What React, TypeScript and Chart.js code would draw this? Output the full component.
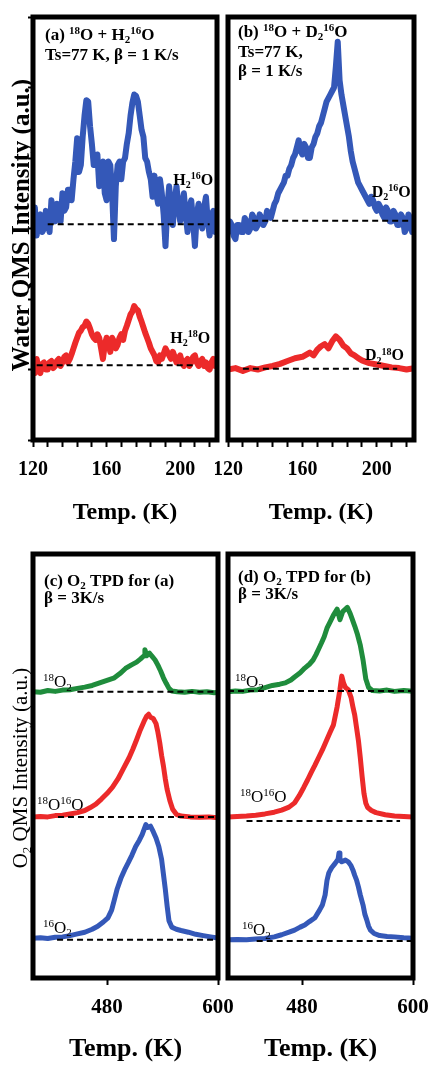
import React, { useEffect, useRef } from 'react';
import { Chart, registerables } from 'chart.js';

Chart.register(...registerables);

const FONT = '"Liberation Serif", "Times New Roman", serif';
const BLUE = '#3458b8';
const RED = '#ec2a2a';
const GREEN = '#1f8c3c';

// ---------- Panels (a) and (b): temperature grid ----------
const TOP_T = [120, 121, 122, 123, 124, 125, 126, 127, 128, 129, 130, 131, 132, 133, 134, 135, 136, 137, 138, 139, 140, 141, 142, 143, 144, 145, 146, 147, 148, 149, 150, 151, 152, 153, 154, 155, 156, 157, 158, 159, 160, 161, 162, 163, 164, 165, 166, 167, 168, 169, 170, 171, 172, 173, 174, 175, 176, 177, 178, 179, 180, 181, 182, 183, 184, 185, 186, 187, 188, 189, 190, 191, 192, 193, 194, 195, 196, 197, 198, 199, 200, 201, 202, 203, 204, 205, 206, 207, 208, 209, 210, 211, 212, 213, 214, 215, 216, 217, 218, 219, 220];

// ---------- Panel (a): 18O + H2 16O ----------
const A_H2_16O = [3.1, 3.3, 2.9, 3.15, 3.2, 2.95, 3.0, 3.25, 3.1, 2.95, 3.4, 3.15, 3.1, 3.35, 3.3, 3.1, 3.5, 3.25, 3.3, 3.55, 3.55, 3.4, 3.7, 3.95, 4.28, 3.8, 3.9, 4.3, 4.6, 4.82, 4.8, 4.45, 4.2, 3.9, 3.95, 4.05, 3.6, 3.9, 3.95, 3.5, 3.4, 3.95, 3.9, 3.5, 2.85, 3.6, 3.9, 3.95, 3.7, 3.95, 4.0, 4.2, 4.35, 4.6, 4.78, 4.9, 4.88, 4.8, 4.6, 4.4, 4.3, 4.0, 3.95, 3.8, 3.7, 3.45, 3.75, 3.5, 3.35, 3.7, 3.5, 3.2, 2.75, 3.3, 3.6, 3.3, 3.05, 3.4, 3.6, 3.3, 3.1, 3.35, 3.5, 3.2, 2.95, 3.3, 3.4, 3.1, 2.75, 3.2, 3.35, 3.1, 3.0, 3.3, 3.45, 3.1, 2.9, 3.2, 3.25, 2.95, 3.0];
const A_H2_18O = [1.05, 0.95, 1.15, 1.0, 0.95, 1.08, 1.1, 1.0, 1.0, 1.1, 1.12, 1.02, 1.05, 1.12, 1.15, 1.05, 1.1, 1.18, 1.2, 1.1, 1.15, 1.22, 1.3, 1.38, 1.45, 1.52, 1.55, 1.6, 1.62, 1.68, 1.65, 1.58, 1.5, 1.45, 1.42, 1.5, 1.45, 1.3, 1.15, 1.35, 1.45, 1.4, 1.25, 1.45, 1.4, 1.3, 1.35, 1.45, 1.5, 1.42, 1.55, 1.62, 1.7, 1.78, 1.82, 1.9, 1.86, 1.84, 1.75, 1.68, 1.6, 1.52, 1.45, 1.38, 1.3, 1.25, 1.2, 1.12, 1.1, 1.2, 1.15, 1.22, 1.3, 1.25, 1.2, 1.15, 1.25, 1.18, 1.1, 1.15, 1.2, 1.1, 1.05, 1.12, 1.15, 1.05, 1.1, 1.18, 1.2, 1.1, 1.05, 1.12, 1.15, 1.05, 1.1, 1.02, 1.0, 1.1, 1.15, 1.05, 1.1];
const A_BASE_16_T = [128, 216];
const A_BASE_16_V = [3.06, 3.06];
const A_BASE_18_T = [122, 207];
const A_BASE_18_V = [1.06, 1.06];

// ---------- Panel (b): 18O + D2 16O ----------
const B_D2_16O = [2.95, 3.1, 3.05, 2.9, 2.85, 3.05, 3.05, 2.95, 2.95, 3.15, 3.1, 2.95, 3.0, 3.2, 3.15, 3.0, 3.05, 3.2, 3.15, 3.05, 3.1, 3.25, 3.2, 3.15, 3.25, 3.35, 3.4, 3.5, 3.55, 3.6, 3.65, 3.75, 3.75, 3.85, 3.9, 4.0, 4.05, 4.15, 4.25, 4.1, 4.05, 4.2, 4.15, 4.0, 4.0, 4.15, 4.2, 4.3, 4.35, 4.45, 4.5, 4.6, 4.7, 4.8, 4.85, 4.9, 4.95, 5.0, 5.3, 5.65, 5.1, 4.9, 4.75, 4.6, 4.45, 4.3, 4.1, 3.95, 3.85, 3.75, 3.65, 3.6, 3.55, 3.5, 3.45, 3.4, 3.35, 3.45, 3.4, 3.3, 3.25, 3.35, 3.3, 3.2, 3.15, 3.3, 3.25, 3.1, 3.1, 3.25, 3.2, 3.05, 3.05, 3.2, 3.15, 2.95, 3.0, 3.2, 3.15, 2.95, 3.05];
const B_T18 = [120, 124, 128, 132, 136, 140, 144, 148, 152, 156, 160, 164, 166, 168, 170, 172, 174, 176, 178, 180, 182, 184, 186, 188, 190, 192, 196, 200, 204, 208, 212, 216, 220];
const B_D2_18O = [1.0, 1.02, 0.98, 1.02, 1.0, 1.03, 1.05, 1.08, 1.12, 1.16, 1.18, 1.24, 1.2, 1.28, 1.33, 1.36, 1.3, 1.4, 1.47, 1.42, 1.34, 1.3, 1.23, 1.2, 1.16, 1.13, 1.09, 1.07, 1.05, 1.03, 1.02, 1.0, 1.02];
const B_BASE_16_T = [133, 217];
const B_BASE_16_V = [3.11, 3.11];
const B_BASE_18_T = [128, 211];
const B_BASE_18_V = [1.01, 1.01];

// ---------- Panel (c): O2 TPD for (a) ----------
const C_T18O2 = [400, 408, 416, 424, 432, 440, 448, 456, 464, 472, 480, 488, 494, 500, 506, 512, 516, 520, 521, 523, 526, 529, 532, 535, 538, 541, 544, 547, 550, 556, 564, 572, 580, 588, 596, 600];
const C_18O2 = [6.75, 6.74, 6.78, 6.76, 6.79, 6.8, 6.83, 6.86, 6.9, 6.96, 7.02, 7.08, 7.18, 7.3, 7.38, 7.45, 7.52, 7.6, 7.74, 7.6, 7.66, 7.58, 7.5, 7.38, 7.24, 7.08, 6.95, 6.83, 6.77, 6.75, 6.74, 6.76, 6.74, 6.75, 6.73, 6.74];
const C_T1816 = [400, 408, 416, 424, 432, 440, 448, 456, 462, 468, 474, 480, 486, 492, 498, 504, 508, 512, 516, 520, 523, 525, 527, 530, 533, 535, 537, 539, 541, 543, 545, 548, 551, 555, 560, 570, 580, 590, 600];
const C_18O16O = [3.8, 3.81, 3.8, 3.83, 3.84, 3.87, 3.9, 3.95, 4.02, 4.1, 4.22, 4.35, 4.5, 4.7, 4.95, 5.2, 5.4, 5.62, 5.85, 6.05, 6.18, 6.22, 6.15, 6.12, 6.0, 5.8, 5.55, 5.25, 5.0, 4.7, 4.45, 4.18, 3.98, 3.86, 3.82, 3.8, 3.79, 3.8, 3.78];
const C_T16O2 = [400, 408, 416, 424, 432, 440, 448, 456, 464, 470, 476, 481, 485, 488, 491, 495, 499, 503, 507, 511, 515, 518, 520, 522, 524, 527, 530, 533, 536, 539, 541, 543, 545, 547, 550, 555, 560, 568, 576, 584, 592, 600];
const C_16O2 = [0.94, 0.95, 0.93, 0.96, 0.97, 1.0, 1.04, 1.08, 1.15, 1.22, 1.32, 1.42, 1.6, 1.85, 2.1, 2.35, 2.55, 2.72, 2.9, 3.1, 3.25, 3.38, 3.5, 3.62, 3.55, 3.58, 3.45, 3.3, 3.1, 2.8, 2.45, 2.1, 1.7, 1.35, 1.2, 1.15, 1.12, 1.08, 1.03, 1.0, 0.97, 0.94];
const C_BASE_18O2_T = [448, 597];
const C_BASE_18O2_V = [6.75, 6.75];
const C_BASE_1816_T = [427, 597];
const C_BASE_1816_V = [3.8, 3.8];
const C_BASE_16O2_T = [426, 597];
const C_BASE_16O2_V = [0.9, 0.9];

// ---------- Panel (d): O2 TPD for (b) ----------
const D_T18O2 = [400, 408, 416, 424, 432, 440, 448, 456, 462, 468, 472, 478, 483, 488, 492, 495, 498, 501, 504, 507, 510, 514, 518, 521, 524, 527, 529, 532, 534, 537, 540, 543, 546, 549, 552, 556, 564, 572, 580, 590, 600];
const D_18O2 = [6.75, 6.77, 6.76, 6.79, 6.8, 6.85, 6.9, 6.93, 6.96, 7.03, 7.1, 7.2, 7.31, 7.4, 7.5, 7.62, 7.76, 7.9, 8.05, 8.25, 8.38, 8.56, 8.7, 8.45, 8.64, 8.7, 8.74, 8.6, 8.48, 8.3, 8.1, 7.85, 7.5, 7.05, 6.85, 6.78, 6.77, 6.79, 6.76, 6.78, 6.76];
const D_T1816 = [400, 410, 420, 430, 440, 450, 458, 466, 472, 477, 482, 486, 490, 494, 498, 502, 506, 510, 514, 518, 521, 523, 525, 527, 530, 533, 535, 537, 539, 541, 543, 545, 547, 549, 551, 555, 560, 570, 580, 590, 600];
const D_18O16O = [3.8, 3.81, 3.82, 3.84, 3.87, 3.91, 3.96, 4.03, 4.13, 4.3, 4.5, 4.67, 4.85, 5.02, 5.2, 5.38, 5.58, 5.78, 5.97, 6.4, 6.8, 7.12, 6.95, 6.85, 6.8, 6.62, 6.4, 6.2, 5.9, 5.6, 5.2, 4.75, 4.35, 4.12, 4.02, 3.95, 3.9, 3.85, 3.82, 3.81, 3.8];
const D_T16O2 = [400, 410, 420, 430, 440, 450, 458, 466, 472, 478, 483, 488, 494, 499, 502, 505, 507, 509, 512, 516, 519, 520, 521, 523, 527, 530, 533, 535, 537, 539, 541, 543, 546, 548, 550, 552, 554, 558, 564, 572, 580, 590, 600];
const D_16O2 = [0.9, 0.91, 0.9, 0.92, 0.93, 0.97, 1.02, 1.08, 1.13, 1.2, 1.25, 1.33, 1.42, 1.6, 1.72, 1.96, 2.3, 2.48, 2.6, 2.71, 2.8, 2.95, 2.78, 2.74, 2.78, 2.74, 2.65, 2.55, 2.42, 2.31, 2.15, 1.96, 1.72, 1.5, 1.37, 1.22, 1.13, 1.05, 1.0, 0.98, 0.97, 0.95, 0.94];
const D_BASE_18O2_T = [400, 600];
const D_BASE_18O2_V = [6.77, 6.77];
const D_BASE_1816_T = [420, 586];
const D_BASE_1816_V = [3.7, 3.7];
const D_BASE_16O2_T = [431, 600];
const D_BASE_16O2_V = [0.87, 0.87];

// ---------- Axis ticks ----------
const TOP_TICKS = [120, 128, 136, 144, 152, 160, 168, 176, 184, 192, 200, 208, 216];
const TOP_LABELS = [120, 160, 200];
const BOT_TICKS = [480, 600];
const BOT_LABELS = [480, 600];

type Seg = [string, number?];
type TextItem = {
  segs: Seg[];
  size: number;
  weight?: string;
  x?: number;
  y?: number;
  tx?: number;
  ty?: number;
  rotate?: boolean;
  align?: 'left' | 'center';
};
type Series = { t: number[]; v: number[]; c: string };
type Dash = { t: number[]; v: number[] };
type PanelSpec = {
  left: number; top: number; w: number; h: number;
  padTop: number; padRight: number; yAxisW: number; xAxisH: number;
  xMin: number; xMax: number; yMax: number;
  ticks: number[]; labels: number[];
  tickSize: number; tickPad: number; titleSize: number; titlePB: number;
  yTicks: boolean; lineW: number;
  series: Series[]; dashes: Dash[]; texts: TextItem[];
};

function drawRich(ctx: CanvasRenderingContext2D, it: TextItem, x: number, y: number) {
  const weight = it.weight || 'bold';
  const small = Math.round(it.size * 0.62);
  ctx.save();
  ctx.translate(x, y);
  if (it.rotate) ctx.rotate(-Math.PI / 2);
  ctx.fillStyle = '#000';
  ctx.textBaseline = 'alphabetic';
  ctx.textAlign = 'left';
  const widths = it.segs.map(([t, k]) => {
    ctx.font = `${weight} ${k ? small : it.size}px ${FONT}`;
    return ctx.measureText(t).width;
  });
  const total = widths.reduce((a, b) => a + b, 0);
  let cx = it.align === 'center' ? -total / 2 : 0;
  it.segs.forEach(([t, k], i) => {
    ctx.font = `${weight} ${k ? small : it.size}px ${FONT}`;
    const dy = k === 1 ? -it.size * 0.36 : k === -1 ? it.size * 0.2 : 0;
    ctx.fillText(t, cx, dy);
    cx += widths[i];
  });
  ctx.restore();
}

const PANELS: PanelSpec[] = [
  {
    left: 0, top: 0, w: 226, h: 530, padTop: 17, padRight: 9, yAxisW: 33, xAxisH: 90,
    xMin: 120, xMax: 220, yMax: 6, ticks: TOP_TICKS, labels: TOP_LABELS,
    tickSize: 20, tickPad: 11, titleSize: 24, titlePB: 2.6, yTicks: true, lineW: 6,
    series: [
      { t: TOP_T, v: A_H2_16O, c: BLUE },
      { t: TOP_T, v: A_H2_18O, c: RED },
    ],
    dashes: [
      { t: A_BASE_16_T, v: A_BASE_16_V },
      { t: A_BASE_18_T, v: A_BASE_18_V },
    ],
    texts: [
      { x: 45, y: 40, size: 17, segs: [['(a) '], ['18', 1], ['O + H'], ['2', -1], ['16', 1], ['O']] },
      { x: 45, y: 60, size: 17, segs: [['Ts=77 K, β = 1 K/s']] },
      { tx: 196.2, ty: 3.62, size: 16, segs: [['H'], ['2', -1], ['16', 1], ['O']] },
      { tx: 194.6, ty: 1.38, size: 16, segs: [['H'], ['2', -1], ['18', 1], ['O']] },
      { x: 29, y: 225, size: 25, rotate: true, align: 'center', segs: [['Water QMS Intensity (a.u.)']] },
    ],
  },
  {
    left: 215, top: 0, w: 210, h: 530, padTop: 17, padRight: 11, yAxisW: 13, xAxisH: 90,
    xMin: 120, xMax: 220, yMax: 6, ticks: TOP_TICKS, labels: TOP_LABELS,
    tickSize: 20, tickPad: 11, titleSize: 24, titlePB: 2.6, yTicks: false, lineW: 6,
    series: [
      { t: TOP_T, v: B_D2_16O, c: BLUE },
      { t: B_T18, v: B_D2_18O, c: RED },
    ],
    dashes: [
      { t: B_BASE_16_T, v: B_BASE_16_V },
      { t: B_BASE_18_T, v: B_BASE_18_V },
    ],
    texts: [
      { x: 238, y: 37, size: 17, segs: [['(b) '], ['18', 1], ['O + D'], ['2', -1], ['16', 1], ['O']] },
      { x: 238, y: 57, size: 17, segs: [['Ts=77 K,']] },
      { x: 238, y: 76, size: 17, segs: [['β = 1 K/s']] },
      { tx: 197.3, ty: 3.45, size: 16, segs: [['D'], ['2', -1], ['16', 1], ['O']] },
      { tx: 193.6, ty: 1.13, size: 16, segs: [['D'], ['2', -1], ['18', 1], ['O']] },
    ],
  },
  {
    left: 0, top: 540, w: 240, h: 526, padTop: 14, padRight: 22, yAxisW: 33, xAxisH: 88,
    xMin: 400, xMax: 600, yMax: 10, ticks: BOT_TICKS, labels: BOT_LABELS,
    tickSize: 21, tickPad: 10.4, titleSize: 26, titlePB: 1.4, yTicks: false, lineW: 5,
    series: [
      { t: C_T18O2, v: C_18O2, c: GREEN },
      { t: C_T1816, v: C_18O16O, c: RED },
      { t: C_T16O2, v: C_16O2, c: BLUE },
    ],
    dashes: [
      { t: C_BASE_18O2_T, v: C_BASE_18O2_V },
      { t: C_BASE_1816_T, v: C_BASE_1816_V },
      { t: C_BASE_16O2_T, v: C_BASE_16O2_V },
    ],
    texts: [
      { x: 44, y: 586, size: 17, segs: [['(c) O'], ['2', -1], [' TPD for (a)']] },
      { x: 44, y: 603, size: 17, segs: [['β = 3K/s']] },
      { tx: 410.8, ty: 6.86, size: 17, weight: 'normal', segs: [['18', 1], ['O'], ['2', -1]] },
      { tx: 404.3, ty: 3.96, size: 17, weight: 'normal', segs: [['18', 1], ['O'], ['16', 1], ['O']] },
      { tx: 410.8, ty: 1.06, size: 17, weight: 'normal', segs: [['16', 1], ['O'], ['2', -1]] },
      { x: 27, y: 768, size: 21, weight: 'normal', rotate: true, align: 'center', segs: [['O'], ['2', -1], [' QMS Intensity (a.u.)']] },
    ],
  },
  {
    left: 215, top: 540, w: 215, h: 526, padTop: 14, padRight: 17, yAxisW: 13, xAxisH: 88,
    xMin: 400, xMax: 600, yMax: 10, ticks: BOT_TICKS, labels: BOT_LABELS,
    tickSize: 21, tickPad: 10.4, titleSize: 26, titlePB: 1.4, yTicks: false, lineW: 5,
    series: [
      { t: D_T18O2, v: D_18O2, c: GREEN },
      { t: D_T1816, v: D_18O16O, c: RED },
      { t: D_T16O2, v: D_16O2, c: BLUE },
    ],
    dashes: [
      { t: D_BASE_18O2_T, v: D_BASE_18O2_V },
      { t: D_BASE_1816_T, v: D_BASE_1816_V },
      { t: D_BASE_16O2_T, v: D_BASE_16O2_V },
    ],
    texts: [
      { x: 238, y: 582, size: 17, segs: [['(d) O'], ['2', -1], [' TPD for (b)']] },
      { x: 238, y: 599, size: 17, segs: [['β = 3K/s']] },
      { tx: 407.6, ty: 6.86, size: 17, weight: 'normal', segs: [['18', 1], ['O'], ['2', -1]] },
      { tx: 413, ty: 4.15, size: 17, weight: 'normal', segs: [['18', 1], ['O'], ['16', 1], ['O']] },
      { tx: 415, ty: 1.01, size: 17, weight: 'normal', segs: [['16', 1], ['O'], ['2', -1]] },
    ],
  },
];

function buildConfig(p: PanelSpec): any {
  const framePlugin = {
    id: 'frame',
    afterDatasetsDraw(chart: any) {
      const { ctx, chartArea: a } = chart;
      ctx.save();
      ctx.strokeStyle = '#000';
      ctx.lineWidth = 5;
      ctx.strokeRect(a.left, a.top, a.right - a.left, a.bottom - a.top);
      ctx.restore();
    },
  };
  const textPlugin = {
    id: 'richText',
    afterDraw(chart: any) {
      const ctx = chart.ctx as CanvasRenderingContext2D;
      for (const it of p.texts) {
        let x: number, y: number;
        if (it.tx !== undefined && it.ty !== undefined) {
          x = chart.scales.x.getPixelForValue(it.tx);
          y = chart.scales.y.getPixelForValue(it.ty);
        } else {
          x = (it.x as number) - p.left;
          y = (it.y as number) - p.top;
        }
        drawRich(ctx, it, x, y);
      }
    },
  };
  const datasets: any[] = [];
  p.series.forEach((s) => {
    datasets.push({
      data: s.t.map((t, i) => ({ x: t, y: s.v[i] })),
      borderColor: s.c,
      backgroundColor: s.c,
      borderWidth: p.lineW,
      pointRadius: 0,
      tension: 0,
      fill: false,
      borderJoinStyle: 'round',
      borderCapStyle: 'round',
      order: 1,
    });
  });
  p.dashes.forEach((d) => {
    datasets.push({
      data: d.t.map((t, i) => ({ x: t, y: d.v[i] })),
      borderColor: '#000',
      borderWidth: 2,
      borderDash: [6, 4],
      pointRadius: 0,
      fill: false,
      order: 0,
    });
  });
  return {
    type: 'line',
    data: { datasets },
    options: {
      animation: false,
      responsive: false,
      devicePixelRatio: 1,
      events: [],
      layout: { padding: { left: 0, right: p.padRight, top: p.padTop, bottom: 0 } },
      plugins: { legend: { display: false }, tooltip: { enabled: false }, title: { display: false } },
      scales: {
        x: {
          type: 'linear',
          min: p.xMin,
          max: p.xMax,
          afterBuildTicks: (s: any) => {
            s.ticks = p.ticks.map((v) => ({ value: v }));
          },
          afterFit: (s: any) => {
            s.height = p.xAxisH;
            s.paddingLeft = 0;
            s.paddingRight = 0;
          },
          ticks: {
            autoSkip: false,
            maxRotation: 0,
            minRotation: 0,
            padding: p.tickPad,
            color: '#000',
            font: { family: FONT, size: p.tickSize, weight: 'bold' },
            callback: (v: number) => (p.labels.includes(v) ? String(v) : ''),
          },
          grid: { display: true, drawOnChartArea: false, drawTicks: true, tickLength: 7, tickWidth: 2, color: '#000' },
          border: { display: false },
          title: {
            display: true,
            text: 'Temp. (K)',
            color: '#000',
            font: { family: FONT, size: p.titleSize, weight: 'bold' },
            padding: { top: 0, bottom: p.titlePB },
          },
        },
        y: {
          type: 'linear',
          min: 0,
          max: p.yMax,
          afterFit: (s: any) => {
            s.width = p.yAxisW;
            s.paddingTop = 0;
            s.paddingBottom = 0;
          },
          ticks: { display: false, stepSize: 1 },
          grid: { display: p.yTicks, drawOnChartArea: false, drawTicks: true, tickLength: 5, tickWidth: 2, color: '#000' },
          border: { display: false },
        },
      },
    },
    plugins: [framePlugin, textPlugin],
  };
}

function Panel({ p }: { p: PanelSpec }) {
  const ref = useRef<HTMLCanvasElement>(null);
  useEffect(() => {
    const chart = new Chart(ref.current as HTMLCanvasElement, buildConfig(p));
    return () => chart.destroy();
  }, [p]);
  return (
    <canvas
      ref={ref}
      width={p.w}
      height={p.h}
      style={{ position: 'absolute', left: p.left, top: p.top, width: p.w, height: p.h }}
    />
  );
}

export default function App() {
  return (
    <div style={{ position: 'absolute', left: 0, top: 0, width: 430, height: 1066, background: '#fff', overflow: 'hidden' }}>
      {PANELS.map((p, i) => (
        <Panel key={i} p={p} />
      ))}
    </div>
  );
}
